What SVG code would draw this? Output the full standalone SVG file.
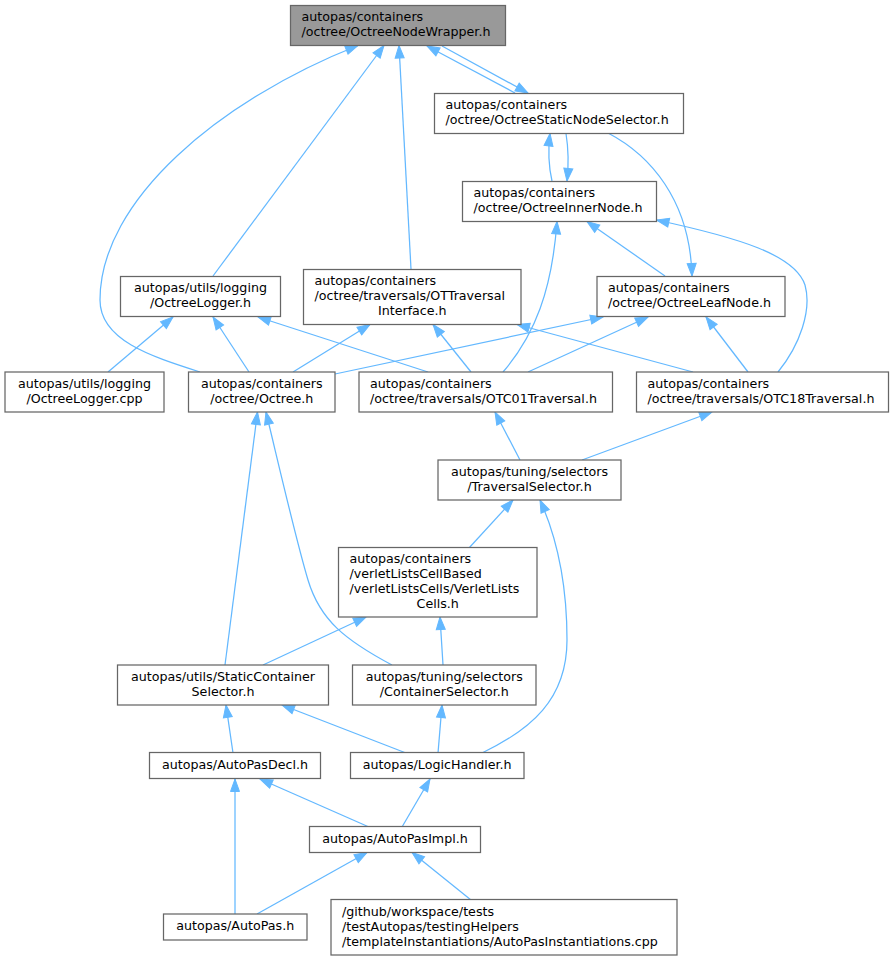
<svg xmlns="http://www.w3.org/2000/svg" width="895" height="960" viewBox="0 0 895 960">
<style>
.n rect{fill:#ffffff;stroke:#666666;stroke-width:1.25}
.n.h rect{fill:#999999}
text{font-family:"DejaVu Sans",sans-serif;font-size:12.67px;fill:#000000}
.c{text-anchor:middle}
.e path{fill:none;stroke:#63b8ff;stroke-width:1.25;marker-end:url(#a)}
</style>
<defs>
<marker id="a" markerUnits="userSpaceOnUse" markerWidth="14" markerHeight="11" refX="12.5" refY="5" orient="auto" overflow="visible">
<path d="M0,0.5 L12.5,5 L0,9.5 Z" fill="#63b8ff" stroke="#63b8ff" stroke-width="1"/>
</marker>
</defs>
<rect width="895" height="960" fill="#ffffff"/>
<g class="e" id="edges">
<path d="M515,93 L427,46"/>
<path d="M442,46 L528,93"/>
<path d="M200,372 C150,356 100,340 100,300 C100,200 220,100 358,45.5"/>
<path d="M213,276 L384,45.5"/>
<path d="M411,269 L399,45.5"/>
<path d="M552,181 C549,168 548,150 550,133.5"/>
<path d="M566,133.5 C568,146 569,162 567,181"/>
<path d="M608,133 C650,155 690,200 692,276"/>
<path d="M778,372 C800,345 812,310 805,285 C795,255 740,238 656.5,220"/>
<path d="M665,276 L587,221.5"/>
<path d="M503,372 C535,335 552,290 557,221.5"/>
<path d="M528,372 L648,317"/>
<path d="M335,374 L603,317"/>
<path d="M108,372 L173,317"/>
<path d="M249,372 L213,317"/>
<path d="M428,372 L258,317"/>
<path d="M293,372 L370,324.5"/>
<path d="M471,372 L433,324.5"/>
<path d="M693,372 L517,324.5"/>
<path d="M748,372 L706,317"/>
<path d="M520,460 L495,412"/>
<path d="M582,460 L712,412"/>
<path d="M225,665 L257.5,412"/>
<path d="M392,665 C345,640 320,620 308,580 C296,540 280,470 266,412"/>
<path d="M469,548 L513,500"/>
<path d="M482,753 C530,730 567,700 567,640 C567,590 558,540 540,500"/>
<path d="M263,665 L366,617"/>
<path d="M443,665 L440,617"/>
<path d="M233,753 L226,705"/>
<path d="M406,753 L282,705"/>
<path d="M438,753 L442,705"/>
<path d="M235,914 L235,779"/>
<path d="M369,827 L260,779"/>
<path d="M402,827 L430,779"/>
<path d="M257,914 L367,852.5"/>
<path d="M471,900 L412,852.5"/>
</g>
<g class="n h" id="n1"><rect x="290.5" y="5.5" width="215" height="40"/><text x="301.5" y="20.5">autopas/containers</text><text x="301.5" y="35.5">/octree/OctreeNodeWrapper.h</text></g>
<g class="n" id="n2"><rect x="434.5" y="93.5" width="249" height="40"/><text x="445.5" y="108.5">autopas/containers</text><text x="445.5" y="123.5">/octree/OctreeStaticNodeSelector.h</text></g>
<g class="n" id="n3"><rect x="462.5" y="181.5" width="194" height="40"/><text x="473.5" y="196.5">autopas/containers</text><text x="473.5" y="211.5">/octree/OctreeInnerNode.h</text></g>
<g class="n" id="n4"><rect x="120.5" y="276.5" width="160" height="40"/><text class="c" x="200.5" y="291.5">autopas/utils/logging</text><text class="c" x="200.5" y="306.5">/OctreeLogger.h</text></g>
<g class="n" id="n5"><rect x="303.5" y="269.5" width="217.5" height="55"/><text x="314.5" y="285">autopas/containers</text><text x="314.5" y="300">/octree/traversals/OTTraversal</text><text class="c" x="412.3" y="315">Interface.h</text></g>
<g class="n" id="n6"><rect x="597" y="276.5" width="188" height="40"/><text x="608" y="291.5">autopas/containers</text><text x="608" y="306.5">/octree/OctreeLeafNode.h</text></g>
<g class="n" id="n7"><rect x="5" y="372" width="159" height="40"/><text class="c" x="84.5" y="387.5">autopas/utils/logging</text><text class="c" x="84.5" y="402.5">/OctreeLogger.cpp</text></g>
<g class="n" id="n8"><rect x="188.5" y="372" width="146.5" height="40"/><text class="c" x="261.75" y="387.5">autopas/containers</text><text class="c" x="261.75" y="402.5">/octree/Octree.h</text></g>
<g class="n" id="n9"><rect x="359" y="372" width="253.5" height="40"/><text x="370" y="387.5">autopas/containers</text><text x="370" y="402.5">/octree/traversals/OTC01Traversal.h</text></g>
<g class="n" id="n10"><rect x="636.5" y="372" width="252" height="40"/><text x="647.5" y="387.5">autopas/containers</text><text x="647.5" y="402.5">/octree/traversals/OTC18Traversal.h</text></g>
<g class="n" id="n11"><rect x="438" y="460" width="183" height="40"/><text class="c" x="529.5" y="475.5">autopas/tuning/selectors</text><text class="c" x="529.5" y="490.5">/TraversalSelector.h</text></g>
<g class="n" id="n12"><rect x="338.5" y="547.5" width="198.5" height="69.5"/><text x="349.5" y="562.5">autopas/containers</text><text x="349.5" y="577.5">/verletListsCellBased</text><text x="349.5" y="592.5">/verletListsCells/VerletLists</text><text class="c" x="437.7" y="607.5">Cells.h</text></g>
<g class="n" id="n13"><rect x="117.5" y="665" width="211" height="40"/><text class="c" x="223" y="680.5">autopas/utils/StaticContainer</text><text class="c" x="223" y="695.5">Selector.h</text></g>
<g class="n" id="n14"><rect x="352.5" y="665" width="183.5" height="40"/><text class="c" x="444.3" y="680.5">autopas/tuning/selectors</text><text class="c" x="444.3" y="695.5">/ContainerSelector.h</text></g>
<g class="n" id="n15"><rect x="149.5" y="752.5" width="171" height="26"/><text class="c" x="235" y="768.5">autopas/AutoPasDecl.h</text></g>
<g class="n" id="n16"><rect x="350.5" y="752.5" width="173.5" height="26"/><text class="c" x="437.2" y="768.5">autopas/LogicHandler.h</text></g>
<g class="n" id="n17"><rect x="309.5" y="826.5" width="171" height="26"/><text class="c" x="395" y="842.5">autopas/AutoPasImpl.h</text></g>
<g class="n" id="n18"><rect x="163.5" y="914" width="143.5" height="26"/><text class="c" x="235.2" y="930">autopas/AutoPas.h</text></g>
<g class="n" id="n19"><rect x="331" y="899.5" width="346" height="55.5"/><text x="342" y="915.5">/github/workspace/tests</text><text x="342" y="930.5">/testAutopas/testingHelpers</text><text x="342" y="945.5">/templateInstantiations/AutoPasInstantiations.cpp</text></g>
</svg>
